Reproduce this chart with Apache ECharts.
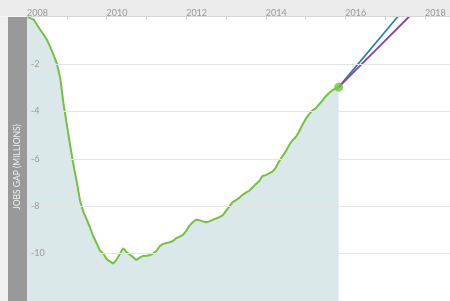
<!DOCTYPE html>
<html>
<head>
<meta charset="utf-8">
<script src="https://cdn.jsdelivr.net/npm/echarts@6/dist/echarts.min.js"></script>
<style>html,body{margin:0;padding:0;background:#fff}#c{width:450px;height:301px}</style>
</head>
<body>
<div id="c"></div>
<script>
// Monthly jobs gap (millions), starting January 2008
var startYear = 2008;
var jobsGap = [
  0.00,-0.07,-0.13,-0.35,-0.56,-0.76,-0.98,-1.28,-1.62,-1.99,-2.57,-3.68,
  -4.55,-5.42,-6.25,-6.97,-7.77,-8.24,-8.56,-8.90,-9.27,-9.57,-9.87,-10.01,
  -10.23,-10.33,-10.42,-10.25,-10.02,-9.77,-9.93,-10.05,-10.15,-10.27,-10.17,-10.10,
  -10.09,-10.07,-10.00,-9.89,-9.69,-9.59,-9.55,-9.52,-9.47,-9.35,-9.29,-9.21,
  -9.05,-8.82,-8.68,-8.57,-8.59,-8.64,-8.68,-8.64,-8.58,-8.52,-8.46,-8.39,
  -8.20,-8.02,-7.83,-7.75,-7.65,-7.52,-7.43,-7.35,-7.21,-7.07,-6.95,-6.73,
  -6.69,-6.62,-6.54,-6.38,-6.12,-5.90,-5.70,-5.44,-5.23,-5.09,-4.87,-4.59,
  -4.33,-4.14,-3.97,-3.88,-3.72,-3.56,-3.38,-3.24,-3.12,-3.04,-2.98
];
// Projection scenarios (year, value)
var projAYears = [2015.833, 2017.32];
var projAValues = [-2.98, 0];
var projBYears = [2015.833, 2017.605];
var projBValues = [-2.98, 0];
var yTicks = [-2, -4, -6, -8, -10];
var yAxisTitle = 'JOBS GAP (MILLIONS)';

var gapData = jobsGap.map(function (v, i) { return [startYear + i / 12, v]; });
var lastPoint = gapData[gapData.length - 1];
var projA = projAYears.map(function (y, i) { return [y, projAValues[i]]; });
var projB = projBYears.map(function (y, i) { return [y, projBValues[i]]; });

var chart = echarts.init(document.getElementById('c'), null, {renderer: 'canvas'});
var font = 'Lato, "Open Sans", sans-serif';
chart.setOption({
  animation: false,
  backgroundColor: '#fff',
  grid: {left: 27, top: 16.5, width: 423, height: 302.4, containLabel: false},
  graphic: [
    {type: 'rect', shape: {x: 0, y: 0, width: 450, height: 16.5}, style: {fill: '#ebebeb'}, z: -1},
    {type: 'rect', shape: {x: 0, y: 17, width: 8, height: 284}, style: {fill: '#f0f0f0'}, z: 100},
    {type: 'rect', shape: {x: 8, y: 17, width: 19, height: 284}, style: {fill: '#999999'}, z: 100},
    {type: 'text', x: 17.5, y: 167, rotation: Math.PI / 2, z: 101,
     style: {text: yAxisTitle, fill: '#f2f2f2', font: '8.5px ' + font, align: 'center', verticalAlign: 'middle'}}
  ],
  xAxis: {
    type: 'value', position: 'top', min: 2008, max: 2018.63, interval: 1, z: 10,
    axisLine: {show: true, lineStyle: {color: '#d6d6d6', width: 1}},
    axisTick: {show: true, inside: true, length: 3, lineStyle: {color: '#cccccc'}},
    splitLine: {show: false},
    axisLabel: {
      show: true, margin: -1.5, align: 'left', color: '#9a9a9a', fontSize: 9, fontFamily: font,
      showMaxLabel: false,
      formatter: function (v) { var r = Math.round(v); return (Math.abs(v - r) < 1e-6 && r % 2 === 0) ? String(r) : ''; }
    }
  },
  yAxis: {
    type: 'value', min: -12, max: 0, interval: 2, z: 10,
    axisLine: {show: false}, axisTick: {show: false},
    splitLine: {show: true, lineStyle: {color: '#e4e4e4', width: 1}},
    axisLabel: {
      inside: true, margin: 4, align: 'left', verticalAlign: 'middle', padding: [0, 0, 9, 0],
      color: '#9a9a9a', fontSize: 9, fontFamily: font,
      formatter: function (v) { return yTicks.indexOf(Math.round(v)) >= 0 ? String(Math.round(v)) : ''; }
    }
  },
  series: [
    {type: 'line', data: gapData, showSymbol: false, smooth: false, z: 3,
     lineStyle: {color: '#77bf45', width: 2},
     areaStyle: {color: '#dbe8ea', opacity: 1, origin: 'start'}},
    {type: 'line', data: projA, showSymbol: false, z: 4,
     lineStyle: {color: '#2a86a3', width: 1.8}},
    {type: 'line', data: projB, showSymbol: false, z: 4,
     lineStyle: {color: '#8a45a5', width: 1.8}},
    {type: 'scatter', data: [lastPoint], symbolSize: 9, z: 5,
     itemStyle: {color: '#77bf45'}}
  ]
});
</script>
</body>
</html>
